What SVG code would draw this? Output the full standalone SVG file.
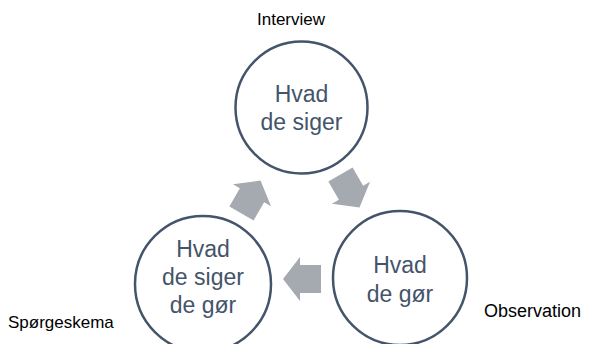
<svg xmlns="http://www.w3.org/2000/svg" width="590" height="344" viewBox="0 0 590 344">
<defs>
<style>
.node circle{fill:#fff;stroke:#44546A;stroke-width:2.5}
.node text{font-family:"Liberation Sans",Arial,sans-serif;font-size:23px;fill:#44546A;text-anchor:middle}
.lbl{font-family:"Liberation Sans",Arial,sans-serif;font-size:17px;fill:#000}
.arrow{fill:#A5A9B0}
</style>
<path id="arr" d="M-19,-14 L2,-14 L2,-22 L19,0 L2,22 L2,14 L-19,14 Z"/>
</defs>
<rect width="590" height="344" fill="#fff"/>
<g id="connectors">
<use href="#arr" class="arrow" transform="translate(350,191) rotate(60)"/>
<use href="#arr" class="arrow" transform="translate(302,279) rotate(180)"/>
<use href="#arr" class="arrow" transform="translate(251,197) rotate(-60)"/>
</g>
<g id="node-top" class="node">
<circle cx="301.5" cy="107.5" r="66"/>
<text x="301.5" y="102">Hvad</text>
<text x="301.5" y="130">de siger</text>
</g>
<g id="node-right" class="node">
<circle cx="400" cy="278" r="67"/>
<text x="400" y="273">Hvad</text>
<text x="400" y="302">de gør</text>
</g>
<g id="node-left" class="node">
<circle cx="203" cy="284" r="68"/>
<text x="203" y="257">Hvad</text>
<text x="203" y="285">de siger</text>
<text x="203" y="313">de gør</text>
</g>
<g id="labels">
<text class="lbl" x="291" y="25" text-anchor="middle">Interview</text>
<text class="lbl" x="484" y="317" style="font-size:18px">Observation</text>
<text class="lbl" x="8" y="328">Spørgeskema</text>
</g>
</svg>
